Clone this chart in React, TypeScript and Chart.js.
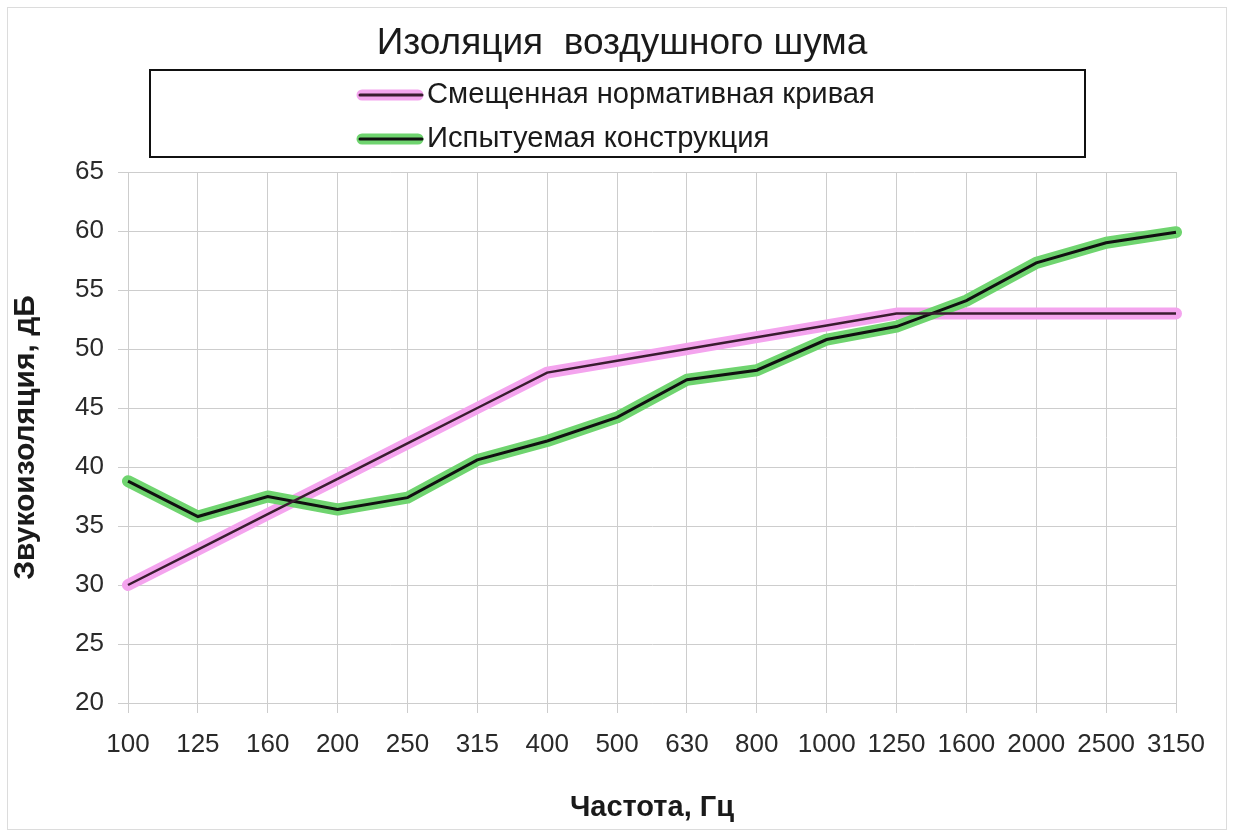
import React, { useEffect, useRef } from "react";
import { Chart, registerables } from "chart.js";

Chart.register(...registerables);

const chartTitle = "Изоляция  воздушного шума";
const frequencies = ["100", "125", "160", "200", "250", "315", "400", "500", "630", "800", "1000", "1250", "1600", "2000", "2500", "3150"];
const normativeCurve = [30, 33, 36, 39, 42, 45, 48, 49, 50, 51, 52, 53, 53, 53, 53, 53];
const testedConstruction = [38.8, 35.8, 37.5, 36.4, 37.4, 40.6, 42.2, 44.2, 47.4, 48.2, 50.8, 51.9, 54.1, 57.3, 59.0, 59.9];
const seriesNames = ["Смещенная нормативная кривая", "Испытуемая конструкция"];
const yAxisTitle = "Звукоизоляция, дБ";
const xAxisTitle = "Частота, Гц";
const yMin = 20;
const yMax = 65;
const yStep = 5;

const FONT = '"Liberation Sans", Arial, sans-serif';
const PINK = "#f4a4ee";
const PINK_CORE = "#3a1c30";
const GREEN = "#6fd46f";
const GREEN_CORE = "#101010";
const GRID = "#cdcdcd";

const overlayPlugin = {
  id: "overlay",
  afterDraw(chart: any) {
    const ctx = chart.ctx as CanvasRenderingContext2D;
    ctx.save();
    // outer frame
    ctx.strokeStyle = "#dcdcdc";
    ctx.lineWidth = 1;
    ctx.strokeRect(7.5, 7.5, 1219, 822);
    // title
    ctx.fillStyle = "#1a1a1a";
    ctx.font = `37px ${FONT}`;
    ctx.textAlign = "center";
    ctx.textBaseline = "middle";
    ctx.fillText(chartTitle, 622, 44);
    // legend box
    ctx.strokeStyle = "#111";
    ctx.lineWidth = 2;
    ctx.strokeRect(150, 70, 935, 87);
    const rows = [
      { y: 95, thick: PINK, core: PINK_CORE, text: seriesNames[0] },
      { y: 139, thick: GREEN, core: GREEN_CORE, text: seriesNames[1] },
    ];
    ctx.lineCap = "round";
    for (const r of rows) {
      ctx.strokeStyle = r.thick;
      ctx.lineWidth = 11;
      ctx.beginPath();
      ctx.moveTo(362, r.y);
      ctx.lineTo(418, r.y);
      ctx.stroke();
      ctx.strokeStyle = r.core;
      ctx.lineWidth = 3;
      ctx.beginPath();
      ctx.moveTo(360, r.y);
      ctx.lineTo(422, r.y);
      ctx.stroke();
      ctx.fillStyle = "#1a1a1a";
      ctx.font = `29.2px ${FONT}`;
      ctx.textAlign = "left";
      ctx.textBaseline = "middle";
      ctx.fillText(r.text, 427, r.y);
    }
    ctx.restore();
  },
};

export default function App() {
  const ref = useRef<HTMLCanvasElement | null>(null);
  useEffect(() => {
    document.body.style.margin = "0";
    const canvas = ref.current;
    if (!canvas) return;
    const chart = new Chart(canvas, {
      type: "line",
      data: {
        labels: frequencies,
        datasets: [
          {
            label: seriesNames[0] + " core",
            data: normativeCurve,
            borderColor: PINK_CORE,
            borderWidth: 2.5,
            pointRadius: 0,
            tension: 0,
            order: 0,
          },
          {
            label: seriesNames[1] + " core",
            data: testedConstruction,
            borderColor: GREEN_CORE,
            borderWidth: 3,
            pointRadius: 0,
            tension: 0,
            order: 0,
          },
          {
            label: seriesNames[1],
            data: testedConstruction,
            borderColor: GREEN,
            borderWidth: 12,
            pointRadius: 0,
            tension: 0,
            order: 1,
            borderCapStyle: "round",
            borderJoinStyle: "round",
          },
          {
            label: seriesNames[0],
            data: normativeCurve,
            borderColor: PINK,
            borderWidth: 12,
            pointRadius: 0,
            tension: 0,
            order: 2,
            borderCapStyle: "round",
            borderJoinStyle: "round",
          },
        ],
      },
      options: {
        animation: false,
        responsive: false,
        maintainAspectRatio: false,
        layout: { padding: { top: 172, right: 58, bottom: 0, left: 0 } },
        plugins: {
          legend: { display: false },
          title: { display: false },
          tooltip: { enabled: false },
        },
        scales: {
          x: {
            type: "category",
            offset: false,
            grid: { color: GRID, lineWidth: 1, tickLength: 10, drawTicks: true },
            border: { color: GRID },
            ticks: {
              color: "#2a2a2a",
              font: { family: FONT, size: 26 },
              padding: 16,
              maxRotation: 0,
              autoSkip: false,
            },
            title: {
              display: true,
              text: xAxisTitle,
              color: "#1a1a1a",
              font: { family: FONT, size: 29, weight: "bold" },
              padding: { top: 0, bottom: 10 },
            },
            afterFit(scale: any) {
              scale.height = 132;
            },
          },
          y: {
            min: yMin,
            max: yMax,
            grid: { color: GRID, lineWidth: 1, tickLength: 10, drawTicks: true },
            border: { color: GRID },
            ticks: {
              stepSize: yStep,
              color: "#2a2a2a",
              font: { family: FONT, size: 26 },
              padding: 14,
            },
            title: {
              display: true,
              text: yAxisTitle,
              color: "#1a1a1a",
              font: { family: FONT, size: 30, weight: "bold" },
              padding: { top: 8, bottom: 0 },
            },
            afterFit(scale: any) {
              scale.width = 128;
            },
          },
        },
      },
      plugins: [overlayPlugin],
    });
    return () => chart.destroy();
  }, []);
  return (
    <div style={{ width: 1234, height: 835, background: "#fff" }}>
      <canvas ref={ref} width={1234} height={835} style={{ display: "block", width: 1234, height: 835 }} />
    </div>
  );
}
